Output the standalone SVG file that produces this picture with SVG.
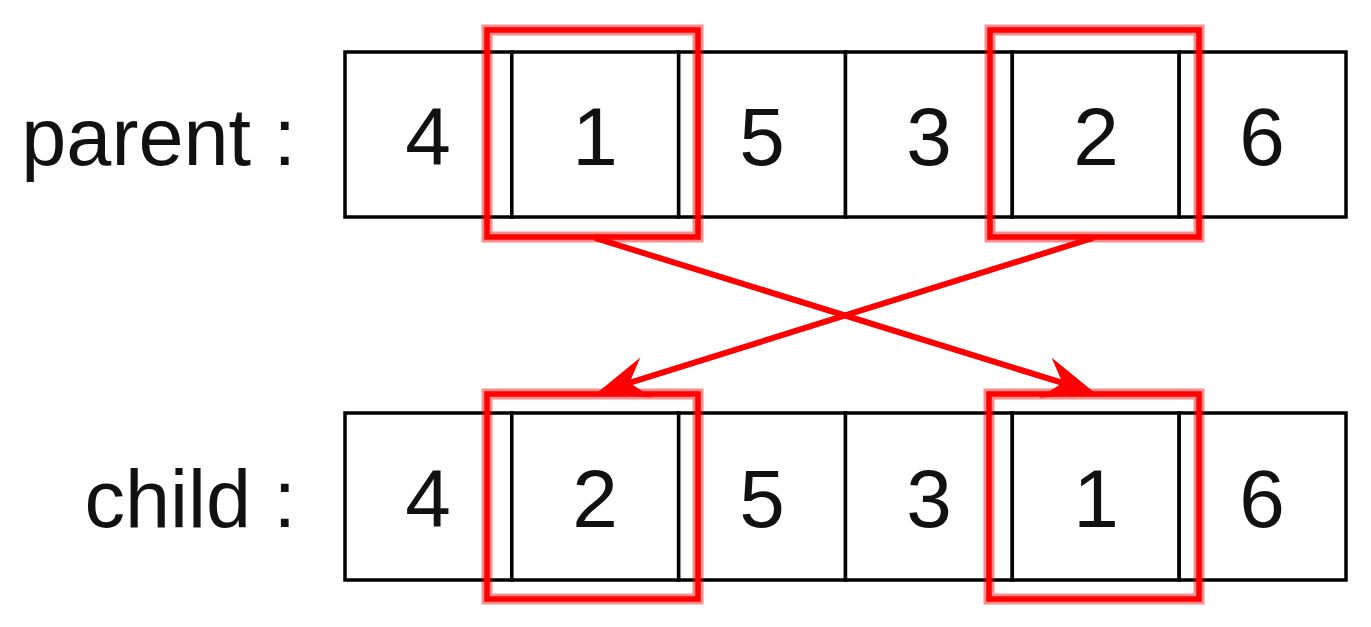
<svg xmlns="http://www.w3.org/2000/svg" width="1371" height="627" viewBox="0 0 1371 627">
<style>
.cell{fill:#fff;stroke:#000;stroke-width:3.5}
.lbl{font-family:"Liberation Sans",Arial,sans-serif;font-size:81px;fill:#111}
.num{font-family:"Liberation Sans",Arial,sans-serif;font-size:82px;fill:#111;text-anchor:middle}
.halo{fill:none;stroke:#ff0000;stroke-opacity:0.45;stroke-width:11}
.sel{fill:none;stroke:#ff0000;stroke-width:5.5}
.conn{fill:none;stroke:#ff0000;stroke-width:6}
</style>
<defs>
<marker id="arr" markerUnits="userSpaceOnUse" viewBox="-20 -24 64 48" refX="0" refY="0" markerWidth="64" markerHeight="48" orient="auto" overflow="visible">
<path d="M34,0 L-18,-21 L0,0 L-18,21 Z" fill="#ff0000"/>
</marker>
</defs>
<g id="labels">
<text class="lbl" x="296" y="165" text-anchor="end">parent :</text>
<text class="lbl" x="296" y="527" text-anchor="end">child :</text>
</g>
<g id="parent">
<rect class="cell" x="345" y="52" width="166.8" height="165"/>
<rect class="cell" x="511.8" y="52" width="166.8" height="165"/>
<rect class="cell" x="678.7" y="52" width="166.8" height="165"/>
<rect class="cell" x="845.5" y="52" width="166.8" height="165"/>
<rect class="cell" x="1012.3" y="52" width="166.8" height="165"/>
<rect class="cell" x="1179.2" y="52" width="166.8" height="165"/>
<text class="num" x="428" y="165">4</text>
<text class="num" x="595" y="165">1</text>
<text class="num" x="762" y="165">5</text>
<text class="num" x="929" y="165">3</text>
<text class="num" x="1096" y="165">2</text>
<text class="num" x="1262" y="165">6</text>
</g>
<g id="child">
<rect class="cell" x="345" y="413" width="166.8" height="167"/>
<rect class="cell" x="511.8" y="413" width="166.8" height="167"/>
<rect class="cell" x="678.7" y="413" width="166.8" height="167"/>
<rect class="cell" x="845.5" y="413" width="166.8" height="167"/>
<rect class="cell" x="1012.3" y="413" width="166.8" height="167"/>
<rect class="cell" x="1179.2" y="413" width="166.8" height="167"/>
<text class="num" x="428" y="527">4</text>
<text class="num" x="595" y="527">2</text>
<text class="num" x="762" y="527">5</text>
<text class="num" x="929" y="527">3</text>
<text class="num" x="1096" y="527">1</text>
<text class="num" x="1262" y="527">6</text>
</g>
<g id="sel-parent-1">
<rect class="halo" x="487" y="30" width="211" height="207"/>
<rect class="sel" x="487" y="30" width="211" height="207"/>
</g>
<g id="sel-parent-2">
<rect class="halo" x="990" y="30" width="209" height="207"/>
<rect class="sel" x="990" y="30" width="209" height="207"/>
</g>
<g id="sel-child-2">
<rect class="halo" x="487" y="394" width="211" height="205"/>
<rect class="sel" x="487" y="394" width="211" height="205"/>
</g>
<g id="sel-child-1">
<rect class="halo" x="989" y="394" width="210" height="205"/>
<rect class="sel" x="989" y="394" width="210" height="205"/>
</g>
<g id="connectors">
<line class="conn" x1="595" y1="238" x2="1062.5" y2="382.9" marker-end="url(#arr)"/>
<line class="conn" x1="1093" y1="238" x2="629.4" y2="382.9" marker-end="url(#arr)"/>
</g>
</svg>
